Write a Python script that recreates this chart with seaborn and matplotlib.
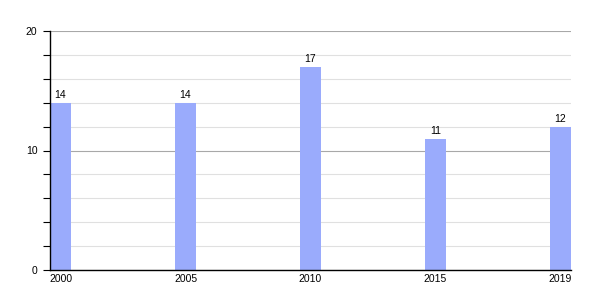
import matplotlib
matplotlib.use("Agg")
import matplotlib.pyplot as plt
from matplotlib.ticker import MultipleLocator
import seaborn as sns
import pandas as pd

years = ["2000", "2005", "2010", "2015", "2019"]
values = [14, 14, 17, 11, 12]

sns.set_style("white")
plt.rcParams['font.family'] = ['Liberation Sans', 'DejaVu Sans']
plt.rcParams['text.color'] = 'black'
plt.rcParams['xtick.color'] = 'black'
plt.rcParams['ytick.color'] = 'black'

df = pd.DataFrame({"year": years, "value": values})

fig = plt.figure(figsize=(6, 3), dpi=100)
ax = fig.add_axes([50/600, 30/300, 521/600, 239/300])

sns.barplot(data=df, x="year", y="value", color="#9aabfc", saturation=1,
            width=0.168, ax=ax, edgecolor="none", linewidth=0)

ax.set_xlim(-0.084, 4.084)
ax.set_ylim(0, 20)
ax.yaxis.set_major_locator(MultipleLocator(10))
ax.yaxis.set_minor_locator(MultipleLocator(2))
ax.grid(True, axis="y", which="major", color="#a8a8a8", linewidth=0.8)
ax.grid(True, axis="y", which="minor", color="#e0e0e0", linewidth=0.8)
ax.set_axisbelow(True)

for s in ["top", "right"]:
    ax.spines[s].set_visible(False)
ax.spines["left"].set_color("black")
ax.spines["bottom"].set_color("black")
ax.spines["left"].set_linewidth(1)
ax.spines["bottom"].set_linewidth(1)

ax.tick_params(axis="y", which="both", direction="out", length=5, width=0.8,
               color="black", left=True, labelsize=7.5, pad=4, labelcolor="black")
ax.tick_params(axis="x", length=0, labelsize=7.5, pad=3, labelcolor="black")

for c in ax.containers:
    ax.bar_label(c, fmt="%d", padding=2, fontsize=7.5, color="black")

ax.set_xlabel("")
ax.set_ylabel("")

fig.savefig("out.png", dpi=100)
